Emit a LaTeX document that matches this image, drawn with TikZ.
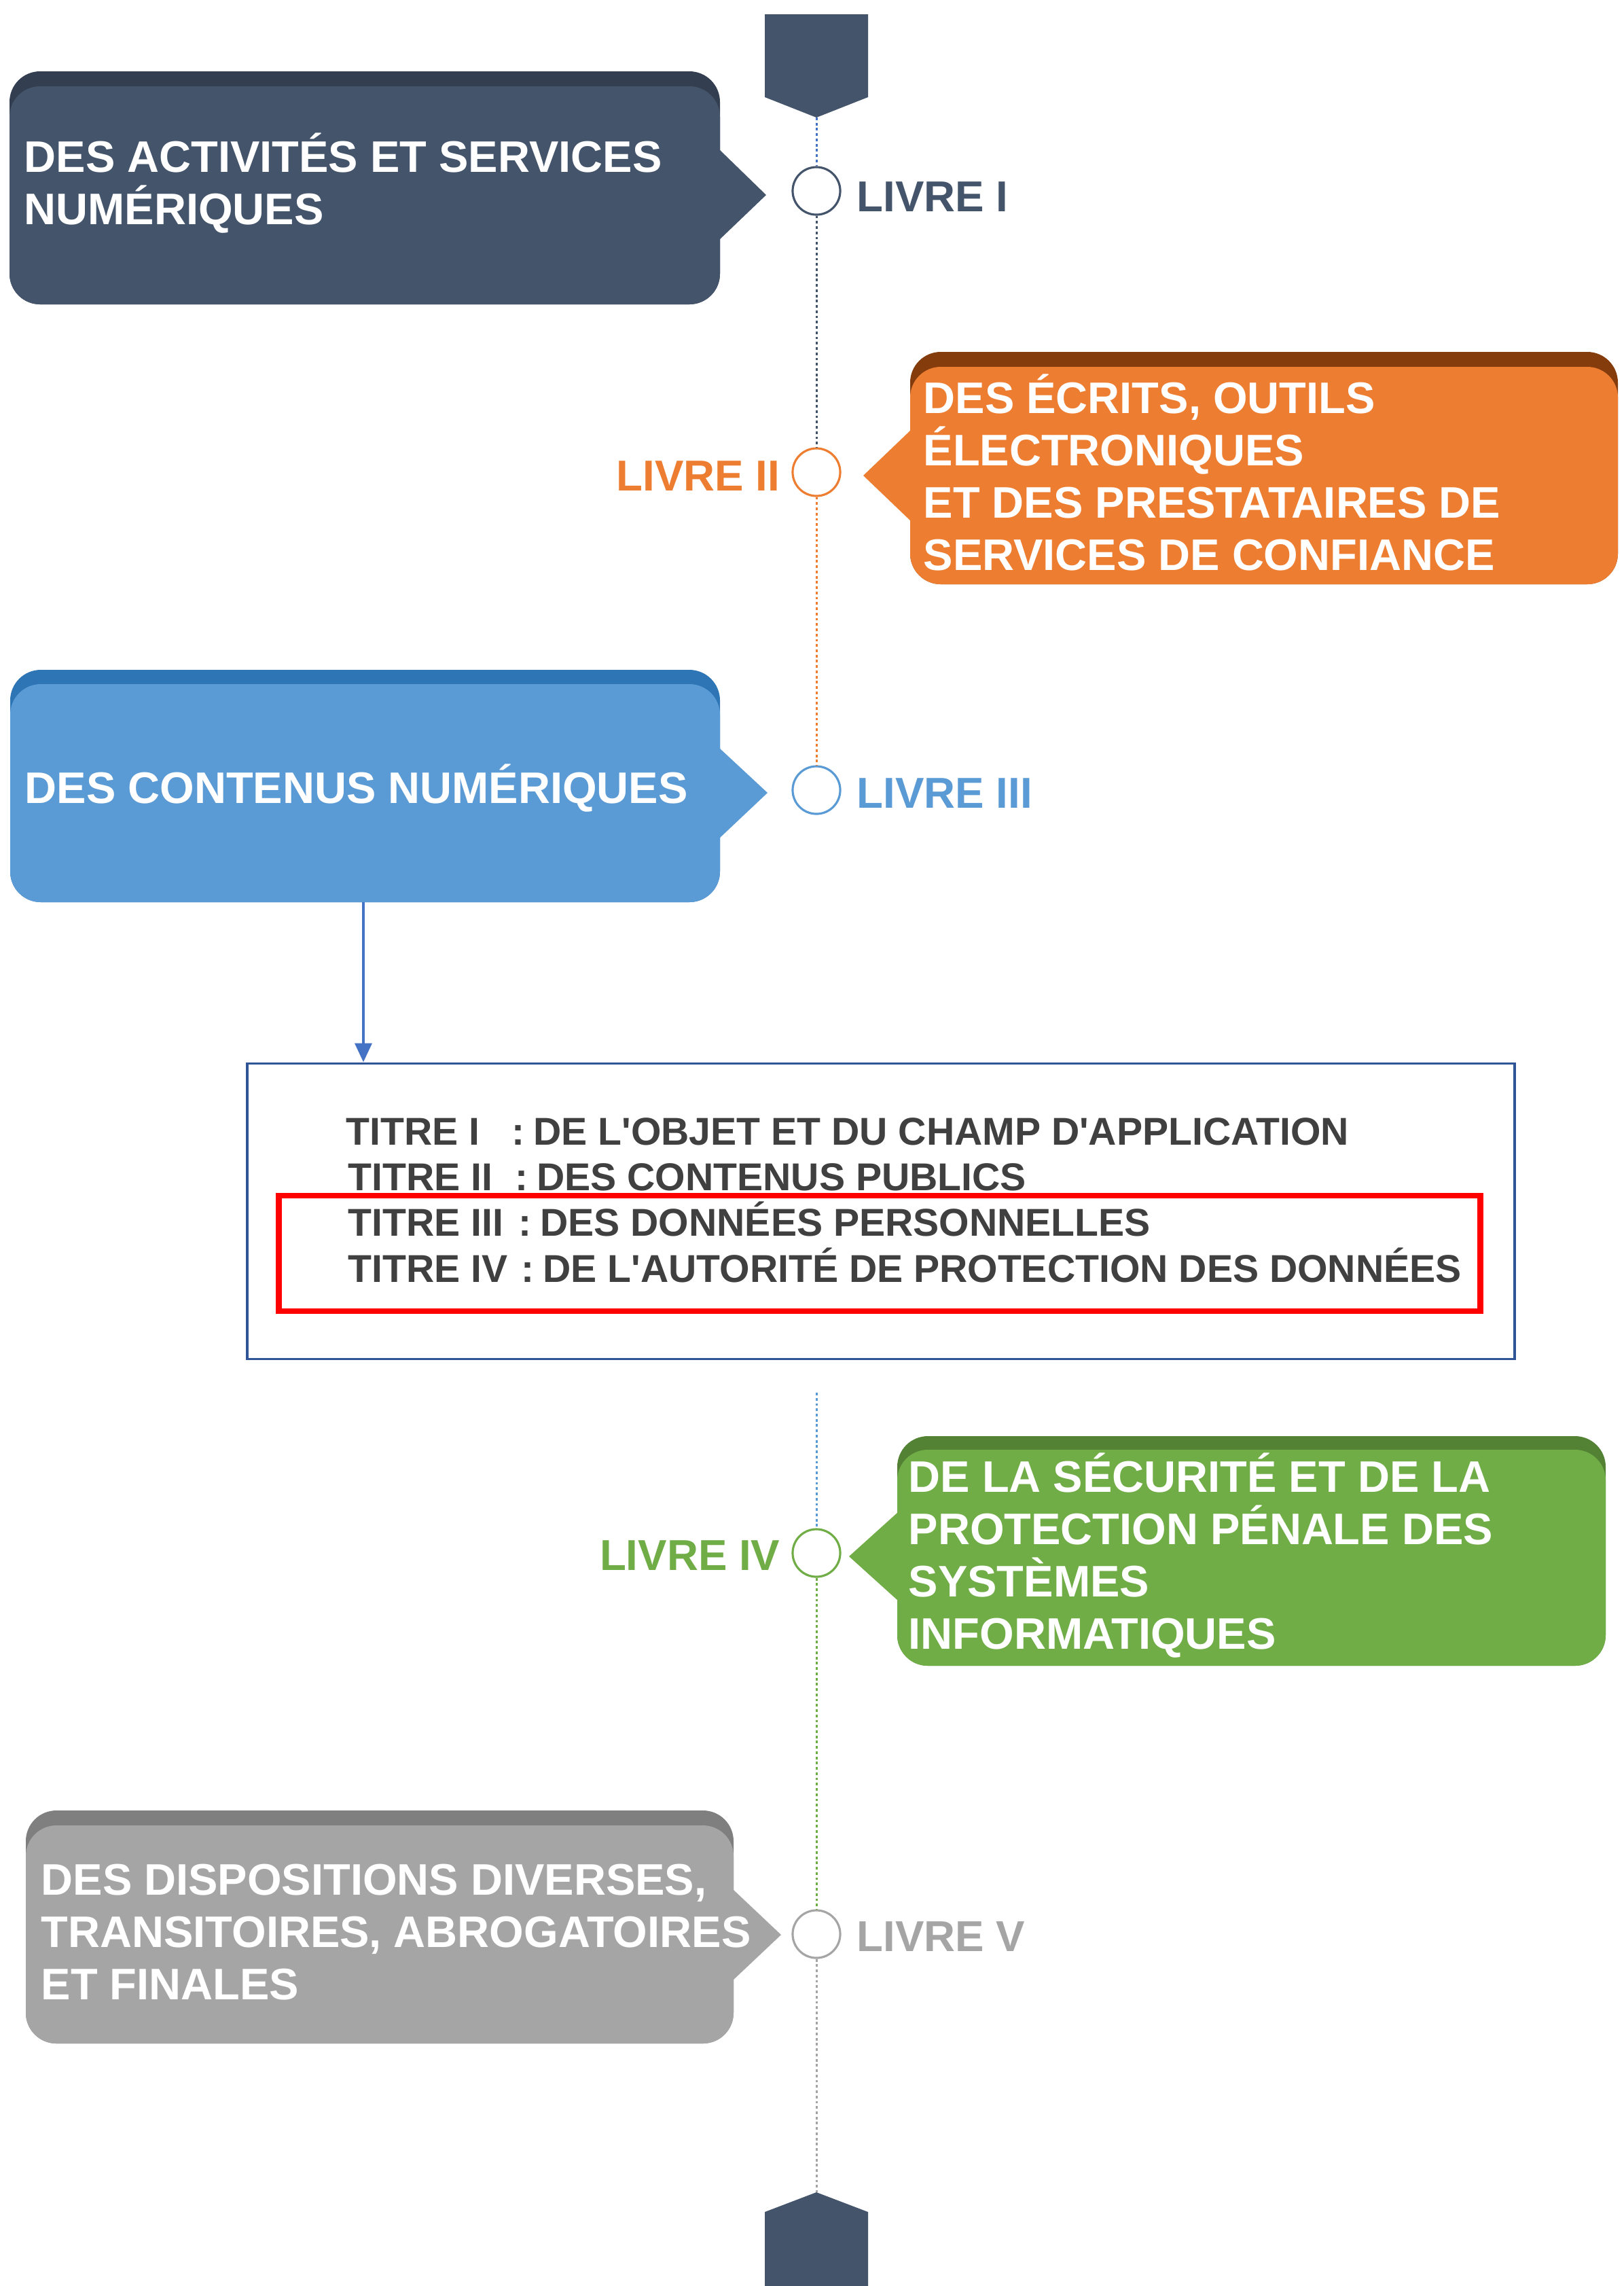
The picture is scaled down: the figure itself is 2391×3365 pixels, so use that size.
\documentclass[tikz,border=0pt]{standalone}
\usepackage{fontspec}
\setmainfont{Liberation Sans}
\usetikzlibrary{arrows.meta}
\definecolor{slate}{HTML}{44546A}
\definecolor{slatedk}{HTML}{333F50}
\definecolor{orng}{HTML}{ED7D31}
\definecolor{orngdk}{HTML}{843C0C}
\definecolor{blu}{HTML}{5B9BD5}
\definecolor{bludk}{HTML}{2E75B6}
\definecolor{grn}{HTML}{70AD47}
\definecolor{grndk}{HTML}{548235}
\definecolor{gry}{HTML}{A5A5A5}
\definecolor{grydk}{HTML}{7F7F7F}
\definecolor{lineblue}{HTML}{4472C4}
\definecolor{frameblue}{HTML}{2F5597}
\definecolor{txtgray}{HTML}{404040}
\tikzset{
  boxtxt/.style={anchor=base west, inner sep=0pt, text=white, font=\bfseries\fontsize{18.5pt}{21.9pt}\selectfont},
  livre/.style={inner sep=0pt, font=\bfseries\fontsize{18.1pt}{21.9pt}\selectfont},
  dotc/.style={circle, draw, fill=white, line width=0.9pt, minimum size=0.7cm, inner sep=0pt},
  tl/.style={line width=0.85pt, dash pattern=on 1.1pt off 1.1pt},
  titre/.style={anchor=base west, inner sep=0pt, text=txtgray, font=\bfseries\fontsize{16.25pt}{19pt}\selectfont},
  corner/.style={rounded corners=0.45cm}
}
\newcommand\mylines[1]{\parbox[t]{12cm}{\raggedright #1}}
\newcommand\csp{ \kern-0.15em }
\begin{document}
\begin{tikzpicture}[x=0.01cm,y=-0.01cm]
\useasboundingbox (0,0) rectangle (2391,3365);

% top and bottom pentagons
\fill[slate] (1126,21) -- (1278,21) -- (1278,143) -- (1202,173) -- (1126,143) -- cycle;
\coordinate (ptop) at (1202,173);
\fill[slate] (1202,3227) -- (1278,3256) -- (1278,3365) -- (1126,3365) -- (1126,3256) -- cycle;
\coordinate (pbot) at (1202,3227);

% box 1
\fill[slatedk, corner] (14,105) rectangle (1060,448);
\fill[slate, corner] (14,127) rectangle (1060,448);
\fill[slate] (1059,220) -- (1128,287) -- (1059,353) -- cycle;
\node[boxtxt] (t1) at (35,253) {\mylines{DES ACTIVITÉS ET SERVICES\\NUMÉRIQUES}};

% box 2
\fill[orngdk, corner] (1340,518) rectangle (2382,860);
\fill[orng, corner] (1340,540) rectangle (2382,860);
\fill[orng] (1341,633) -- (1271,700) -- (1341,767) -- cycle;
\node[boxtxt] (t2) at (1359,608) {\mylines{DES ÉCRITS, OUTILS\\ÉLECTRONIQUES\\ET DES PRESTATAIRES DE\\SERVICES DE CONFIANCE}};

% box 3
\fill[bludk, corner] (15,986) rectangle (1060,1328);
\fill[blu, corner] (15,1007) rectangle (1060,1328);
\fill[blu] (1059,1101) -- (1130,1167) -- (1059,1234) -- cycle;
\node[boxtxt] (t3) at (36,1182) {DES CONTENUS NUMÉRIQUES};
\coordinate (b3bot) at (535,1328);

% box 4
\fill[grndk, corner] (1321,2114) rectangle (2364,2452);
\fill[grn, corner] (1321,2134) rectangle (2364,2452);
\fill[grn] (1322,2226) -- (1250,2291) -- (1322,2356) -- cycle;
\node[boxtxt] (t4) at (1337,2196) {\mylines{DE LA SÉCURITÉ ET DE LA\\PROTECTION PÉNALE DES\\SYSTÈMES\\INFORMATIQUES}};

% box 5
\fill[grydk, corner] (38,2665) rectangle (1080,3008);
\fill[gry, corner] (38,2687) rectangle (1080,3008);
\fill[gry] (1079,2781) -- (1150,2848) -- (1079,2915) -- cycle;
\node[boxtxt] (t5) at (60,2789) {\mylines{DES DISPOSITIONS DIVERSES,\\TRANSITOIRES, ABROGATOIRES\\ET FINALES}};

% timeline circles
\node[dotc, draw=slate] (c1) at (1202,281) {};
\node[dotc, draw=orng] (c2) at (1202,695) {};
\node[dotc, draw=blu] (c3) at (1202,1163) {};
\node[dotc, draw=grn] (c4) at (1202,2286) {};
\node[dotc, draw=gry] (c5) at (1202,2847) {};
\coordinate (tlstart) at (1202,2050);

% timeline segments
\draw[tl, lineblue] (ptop) -- (c1.north);
\draw[tl, slate] (c1.south) -- (c2.north);
\draw[tl, orng] (c2.south) -- (c3.north);
\draw[tl, blu] (tlstart) -- (c4.north);
\draw[tl, grn] (c4.south) -- (c5.north);
\draw[tl, gry] (c5.south) -- (pbot);

% labels
\node[livre, text=slate, anchor=base west] (l1) at (1261,311) {LIVRE I};
\node[livre, text=orng, anchor=base east] (l2) at (1149,722) {LIVRE II};
\node[livre, text=blu, anchor=base west] (l3) at (1261,1189) {LIVRE III};
\node[livre, text=grn, anchor=base east] (l4) at (1149,2311) {LIVRE IV};
\node[livre, text=gry, anchor=base west] (l5) at (1261,2872) {LIVRE V};

% titles box
\node[draw=frameblue, line width=1pt, minimum width=18.65cm, minimum height=4.35cm, inner sep=0pt] (tbox) at (1297,1783) {};
\node[draw=red, line width=2.5pt, minimum width=17.68cm, minimum height=1.70cm, inner sep=0pt] (hl) at (1295,1845) {};
\draw[lineblue, line width=1.4pt, -{Triangle[length=8pt,width=7pt]}] (b3bot) -- (b3bot |- tbox.north);

\node[titre] (k1) at (509,1685) {TITRE I};
\node[titre] (v1) at (753,1685) {:\csp DE L\textquotesingle OBJET ET DU CHAMP D\textquotesingle APPLICATION};
\node[titre] (k2) at (512,1752) {TITRE II};
\node[titre] (v2) at (758,1752) {:\csp DES CONTENUS PUBLICS};
\node[titre] (k3) at (512,1819) {TITRE III};
\node[titre] (v3) at (763,1819) {:\csp DES DONNÉES PERSONNELLES};
\node[titre] (k4) at (512,1887) {TITRE IV};
\node[titre] (v4) at (767,1887) {:\csp DE L\textquotesingle AUTORITÉ DE PROTECTION DES DONNÉES};
\end{tikzpicture}
\end{document}
